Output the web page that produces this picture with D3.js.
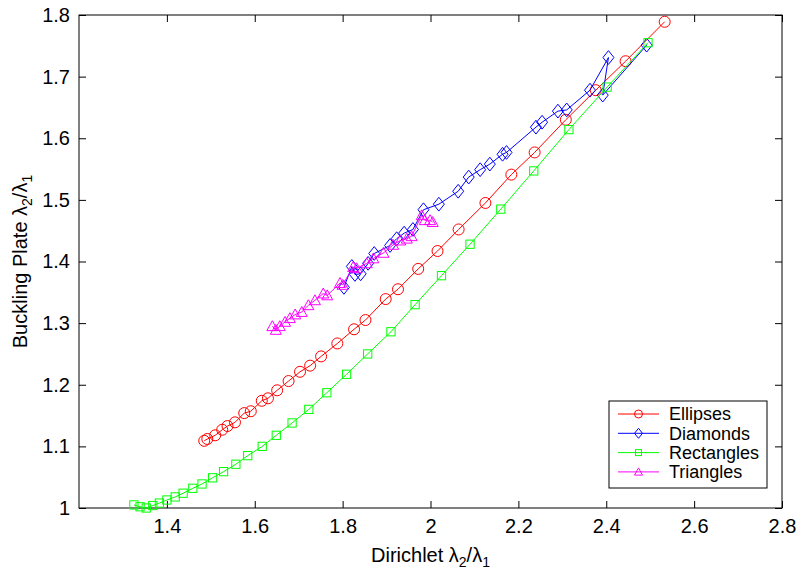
<!DOCTYPE html>
<html>
<head>
<meta charset="utf-8">
<script src="https://cdn.jsdelivr.net/npm/d3@7"></script>
<style>
	body { margin: 0; background: #fff; }
	svg { font-family: Arial, "Liberation Sans", sans-serif; }
</style>
</head>
<body>
<div id="chart-area"></div>
<script>
/* Data */
const ellipses = [
	[1.485, 1.109], [1.492, 1.112], [1.510, 1.118], [1.526, 1.127], [1.538, 1.133],
	[1.555, 1.139], [1.576, 1.154], [1.591, 1.157], [1.616, 1.174], [1.630, 1.178],
	[1.651, 1.191], [1.677, 1.206], [1.703, 1.221], [1.726, 1.231], [1.751, 1.246],
	[1.788, 1.267], [1.826, 1.290], [1.852, 1.305], [1.898, 1.339], [1.926, 1.355],
	[1.972, 1.388], [2.016, 1.417], [2.064, 1.452], [2.125, 1.495], [2.184, 1.541],
	[2.237, 1.577], [2.308, 1.630], [2.376, 1.678], [2.444, 1.725], [2.533, 1.789]
]
const diamonds = [
	[1.803, 1.358], [1.821, 1.392], [1.828, 1.379], [1.841, 1.380], [1.858, 1.397],
	[1.872, 1.413], [1.908, 1.426], [1.923, 1.437], [1.940, 1.446], [1.960, 1.452],
	[1.984, 1.484], [2.019, 1.493], [2.063, 1.514], [2.087, 1.537], [2.113, 1.549],
	[2.135, 1.558], [2.164, 1.574], [2.173, 1.577], [2.240, 1.618], [2.254, 1.626],
	[2.290, 1.644], [2.310, 1.646], [2.363, 1.678], [2.405, 1.731], [2.392, 1.670],
	[2.492, 1.751]
]
const rectangles = [
	[1.325, 1.005], [1.339, 1.002], [1.353, 1.000], [1.368, 1.004], [1.383, 1.008],
	[1.400, 1.013], [1.419, 1.018], [1.437, 1.024], [1.459, 1.032], [1.480, 1.039],
	[1.504, 1.049], [1.529, 1.059], [1.557, 1.071], [1.584, 1.085], [1.617, 1.100],
	[1.649, 1.118], [1.685, 1.138], [1.723, 1.160], [1.764, 1.187], [1.809, 1.217],
	[1.857, 1.250], [1.910, 1.286], [1.965, 1.330], [2.025, 1.377], [2.090, 1.428],
	[2.160, 1.485], [2.235, 1.547], [2.315, 1.614], [2.402, 1.683], [2.495, 1.755]
]
const triangles = [
	[1.640, 1.295], [1.648, 1.289], [1.657, 1.295], [1.669, 1.302], [1.680, 1.308],
	[1.692, 1.314], [1.707, 1.318], [1.722, 1.329], [1.737, 1.337], [1.756, 1.348],
	[1.765, 1.345], [1.794, 1.365], [1.800, 1.362], [1.824, 1.391], [1.832, 1.389],
	[1.855, 1.397], [1.870, 1.405], [1.893, 1.414], [1.915, 1.427], [1.931, 1.434],
	[1.946, 1.437], [1.957, 1.441], [1.980, 1.475], [1.987, 1.467], [1.999, 1.467],
	[2.005, 1.464]
]

const seriesNames = ['Ellipses', 'Diamonds', 'Rectangles', 'Triangles']
const seriesColors = ['#ff0000', '#0000ff', '#00ff00', '#ff00ff']
const xTicks = [1.4, 1.6, 1.8, 2, 2.2, 2.4, 2.6, 2.8]
const yTicks = [1, 1.1, 1.2, 1.3, 1.4, 1.5, 1.6, 1.7, 1.8]

const allSeries = [ellipses, diamonds, rectangles, triangles]

/* Canvas */
const CANVAS_WIDTH = 802
const CANVAS_HEIGHT = 571
const margin = { top: 15, bottom: 63, left: 79, right: 20 }
const width = CANVAS_WIDTH - margin.left - margin.right
const height = CANVAS_HEIGHT - margin.top - margin.bottom

const $svg = d3.select('#chart-area')
	.append('svg')
	.attr('width', CANVAS_WIDTH)
	.attr('height', CANVAS_HEIGHT)

const $scene = $svg.append('g')
	.attr('transform', `translate(${margin.left}, ${margin.top})`)

/* Scales */
const xScale = d3.scaleLinear().domain([1.2, 2.8]).range([0, width])
const yScale = d3.scaleLinear().domain([1, 1.8]).range([height, 0])

/* Axes, ticks pointing inward on all four sides */
const tickLen = 7
const styleAxis = g => {
	g.select('.domain').remove()
	g.selectAll('line').attr('stroke', '#000')
	g.selectAll('text').attr('fill', '#000').attr('font-size', 20)
}

$scene.append('g')
	.attr('transform', `translate(0, ${height})`)
	.call(d3.axisBottom(xScale).tickValues(xTicks).tickSizeInner(-tickLen).tickSizeOuter(0)
		.tickPadding(11).tickFormat(d3.format('')))
	.call(styleAxis)

$scene.append('g')
	.call(d3.axisTop(xScale).tickValues(xTicks).tickSizeInner(-tickLen).tickSizeOuter(0).tickFormat(''))
	.call(styleAxis)

$scene.append('g')
	.call(d3.axisLeft(yScale).tickValues(yTicks).tickSizeInner(-tickLen).tickSizeOuter(0)
		.tickPadding(9).tickFormat(d3.format('')))
	.call(styleAxis)

$scene.append('g')
	.attr('transform', `translate(${width}, 0)`)
	.call(d3.axisRight(yScale).tickValues(yTicks).tickSizeInner(-tickLen).tickSizeOuter(0).tickFormat(''))
	.call(styleAxis)

$scene.append('rect')
	.attr('x', 0).attr('y', 0)
	.attr('width', width).attr('height', height)
	.attr('fill', 'none')
	.attr('stroke', '#000')
	.attr('stroke-width', 1)

/* Axis labels with subscripts */
function lambdaLabel($text, prefix) {
	$text.append('tspan').text(prefix + 'λ')
	$text.append('tspan').attr('font-size', 14).attr('dy', 5).text('2')
	$text.append('tspan').attr('dy', -5).text('/λ')
	$text.append('tspan').attr('font-size', 14).attr('dy', 5).text('1')
}

const $xLabel = $svg.append('text')
	.attr('x', margin.left + xScale(2))
	.attr('y', 562)
	.attr('text-anchor', 'middle')
	.attr('font-size', 20)
	.call(lambdaLabel, 'Dirichlet ')

const $yLabel = $svg.append('text')
	.attr('transform', `translate(27, ${margin.top + height / 2}) rotate(-90)`)
	.attr('text-anchor', 'middle')
	.attr('font-size', 20)
	.call(lambdaLabel, 'Buckling Plate ')

/* Markers */
function drawMarker($g, i, s) {
	const color = seriesColors[i]
	if (i === 0) {
		$g.append('circle').attr('r', s)
	} else if (i === 1) {
		const d = s * 1.25
		$g.append('path').attr('d', `M0,${-d}L${d * 0.8},0L0,${d}L${-d * 0.8},0Z`)
	} else if (i === 2) {
		const h = s * 0.75
		$g.append('rect').attr('x', -h).attr('y', -h).attr('width', 2 * h).attr('height', 2 * h)
	} else {
		const h = s * 1.0
		$g.append('path').attr('d', `M0,${-h}L${h},${h * 0.8}L${-h},${h * 0.8}Z`)
	}
	$g.selectAll('*').attr('fill', 'none').attr('stroke', color).attr('stroke-width', 1)
}

const line = d3.line().x(d => xScale(d[0])).y(d => yScale(d[1]))

allSeries.forEach((data, i) => {
	const $g = $scene.append('g')
	$g.append('path')
		.datum(data)
		.attr('d', line)
		.attr('fill', 'none')
		.attr('stroke', seriesColors[i])
		.attr('stroke-width', 1)
	$g.selectAll('g.marker')
		.data(data)
		.enter()
		.append('g')
		.attr('class', 'marker')
		.attr('transform', d => `translate(${xScale(d[0])}, ${yScale(d[1])})`)
		.each(function() { drawMarker(d3.select(this), i, 5.5) })
})

/* Legend */
const $legend = $svg.append('g').attr('transform', 'translate(609, 401)')
$legend.append('rect')
	.attr('width', 158).attr('height', 87)
	.attr('fill', '#fff').attr('stroke', '#000').attr('stroke-width', 1)

seriesNames.forEach((name, i) => {
	const y = 13 + i * 19.3
	const $row = $legend.append('g').attr('transform', `translate(0, ${y})`)
	$row.append('line')
		.attr('x1', 9).attr('x2', 50)
		.attr('stroke', seriesColors[i]).attr('stroke-width', 1)
	const $m = $row.append('g').attr('transform', 'translate(29.5, 0)')
	drawMarker($m, i, 4)
	$row.append('text')
		.attr('x', 60)
		.attr('dy', '0.35em')
		.attr('font-size', 18)
		.text(name)
})
</script>
</body>
</html>
